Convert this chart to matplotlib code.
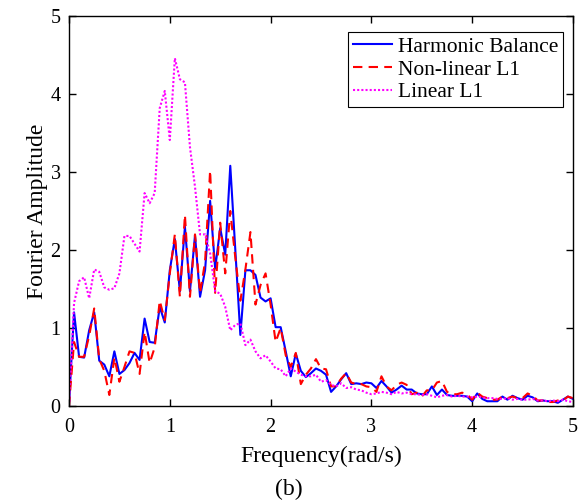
import numpy as np
import matplotlib
matplotlib.use('Agg')
import matplotlib.pyplot as plt

# frequency grid (rad/s), step 0.05
freq = np.linspace(0, 5, 101)

harmonic = [0.03, 1.20, 0.63, 0.62, 0.97, 1.20, 0.58, 0.53, 0.38, 0.70,
            0.41, 0.46, 0.55, 0.68, 0.59, 1.12, 0.82, 0.81, 1.27, 1.07,
            1.74, 2.14, 1.47, 2.30, 1.47, 2.19, 1.40, 1.74, 2.63, 1.76,
            2.28, 1.94, 3.08, 2.00, 0.91, 1.74, 1.74, 1.68, 1.39, 1.34,
            1.38, 1.01, 1.01, 0.70, 0.38, 0.67, 0.45, 0.37, 0.42, 0.48,
            0.45, 0.40, 0.18, 0.25, 0.34, 0.42, 0.28, 0.29, 0.28, 0.30,
            0.29, 0.23, 0.32, 0.25, 0.17, 0.21, 0.26, 0.21, 0.21, 0.16,
            0.15, 0.15, 0.25, 0.14, 0.21, 0.14, 0.13, 0.13, 0.13, 0.12,
            0.06, 0.16, 0.09, 0.06, 0.06, 0.06, 0.12, 0.08, 0.13, 0.10,
            0.08, 0.13, 0.11, 0.06, 0.07, 0.06, 0.06, 0.04, 0.08, 0.12,
            0.09]

nonlinear = [0.00, 0.82, 0.63, 0.63, 0.90, 1.25, 0.60, 0.45, 0.14, 0.62,
             0.31, 0.50, 0.70, 0.68, 0.41, 0.95, 0.55, 0.75, 1.35, 1.10,
             1.70, 2.20, 1.40, 2.45, 1.40, 2.20, 1.45, 1.85, 3.02, 1.45,
             2.35, 1.70, 2.50, 1.90, 1.35, 1.75, 2.23, 1.30, 1.55, 1.70,
             1.30, 0.82, 1.00, 0.65, 0.50, 0.68, 0.28, 0.40, 0.48, 0.60,
             0.48, 0.47, 0.25, 0.25, 0.35, 0.42, 0.30, 0.28, 0.28, 0.25,
             0.24, 0.18, 0.38, 0.25, 0.20, 0.27, 0.30, 0.27, 0.15, 0.17,
             0.12, 0.20, 0.20, 0.30, 0.32, 0.18, 0.15, 0.15, 0.17, 0.15,
             0.08, 0.17, 0.12, 0.10, 0.08, 0.08, 0.12, 0.10, 0.12, 0.10,
             0.10, 0.16, 0.13, 0.07, 0.07, 0.05, 0.05, 0.07, 0.07, 0.12,
             0.10]

linear = [0.00, 1.32, 1.60, 1.65, 1.38, 1.75, 1.72, 1.52, 1.49, 1.51,
          1.70, 2.18, 2.18, 2.08, 1.98, 2.73, 2.60, 2.73, 3.82, 4.04,
          3.41, 4.46, 4.19, 4.15, 3.32, 2.81, 2.20, 2.20, 1.96, 1.47,
          1.44, 1.27, 0.97, 1.04, 1.06, 0.78, 0.85, 0.70, 0.61, 0.65,
          0.57, 0.48, 0.47, 0.38, 0.48, 0.44, 0.40, 0.38, 0.38, 0.40,
          0.31, 0.33, 0.27, 0.25, 0.29, 0.23, 0.24, 0.21, 0.20, 0.17,
          0.15, 0.16, 0.18, 0.17, 0.15, 0.18, 0.16, 0.17, 0.15, 0.15,
          0.14, 0.15, 0.13, 0.11, 0.13, 0.14, 0.12, 0.13, 0.12, 0.12,
          0.11, 0.12, 0.11, 0.10, 0.10, 0.09, 0.09, 0.10, 0.08, 0.09,
          0.08, 0.08, 0.09, 0.07, 0.07, 0.06, 0.07, 0.06, 0.08, 0.06,
          0.05]

plt.rcParams['font.family'] = ['Liberation Serif', 'DejaVu Serif']

fig = plt.figure(figsize=(5.78, 5.03), dpi=100)
ax = fig.add_axes([0.1194, 0.193, 0.8719, 0.775])

ax.plot(freq, harmonic, color='#0000ff', lw=1.5, label='Harmonic Balance')
ax.plot(freq, nonlinear, color='#ff0000', lw=1.5, ls=(0, (4.5, 3)),
        label='Non-linear L1')
ax.plot(freq, linear, color='#ff00ff', lw=1.5, ls=(0, (1, 1)),
        label='Linear L1')

ax.set_xlim(0, 5)
ax.set_ylim(0, 5)
ax.set_xticks(range(6))
ax.set_yticks(range(6))
ax.tick_params(direction='in', top=True, right=True, labelsize=14.5,
               length=5, width=1)
ax.tick_params(axis='x', pad=9)
ax.tick_params(axis='y', pad=6)
for sp in ax.spines.values():
    sp.set_linewidth(1)

ax.set_xlabel('Frequency(rad/s)', fontsize=17, labelpad=6)
ax.set_ylabel('Fourier Amplitude', fontsize=17, labelpad=2)

leg = ax.legend(loc='upper right', bbox_to_anchor=(0.980, 0.959),
                borderaxespad=0, fontsize=15.5, fancybox=False,
                edgecolor='k', framealpha=1, handlelength=1.85,
                handletextpad=0.25, borderpad=0.22, labelspacing=0.12)
leg.get_frame().set_linewidth(0.8)

fig.text(0.5, 1 - 489 / 503, '(b)', ha='center', va='center', fontsize=17)

plt.savefig('out.png', dpi=100)
